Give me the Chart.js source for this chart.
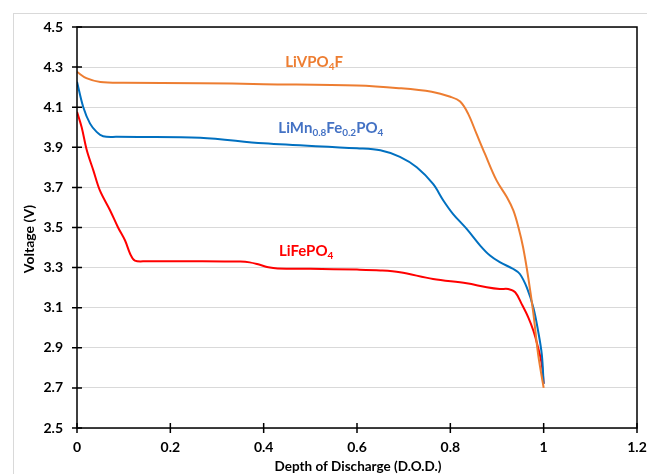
<!DOCTYPE html>
<html>
<head>
<meta charset="utf-8">
<script src="https://cdn.jsdelivr.net/npm/chart.js@4"></script>
<style>
html,body{margin:0;padding:0;background:#fff;}
#wrap{width:647px;height:474px;position:relative;}
</style>
</head>
<body>
<div id="wrap"><canvas id="c" width="647" height="474"></canvas></div>
<script>
// Tick labels
const xTicks = [0, 0.2, 0.4, 0.6, 0.8, 1, 1.2];
const yTicks = [2.5, 2.7, 2.9, 3.1, 3.3, 3.5, 3.7, 3.9, 4.1, 4.3, 4.5];
const xTitle = 'Depth of Discharge (D.O.D.)';
const yTitle = 'Voltage (V)';

// LiVPO4F
const dodLiVPO4F = [0, 0.02, 0.05, 0.1, 0.264, 0.4, 0.6, 0.69, 0.76, 0.8, 0.821, 0.838, 0.856, 0.874, 0.899, 0.921, 0.935, 0.946, 0.956, 0.967, 0.978, 0.988, 1.0];
const vLiVPO4F   = [4.276, 4.245, 4.226, 4.222, 4.22, 4.215, 4.208, 4.195, 4.177, 4.152, 4.128, 4.068, 3.968, 3.868, 3.735, 3.652, 3.585, 3.50, 3.40, 3.25, 3.07, 2.87, 2.70];

// LiMn0.8Fe0.2PO4
const dodLiMnFePO4 = [0, 0.0135, 0.028, 0.042, 0.056, 0.085, 0.264, 0.4, 0.6, 0.65, 0.692, 0.728, 0.763, 0.785, 0.806, 0.835, 0.864, 0.885, 0.906, 0.935, 0.949, 0.964, 0.978, 0.988, 0.996, 1.0];
const vLiMnFePO4   = [4.227, 4.10, 4.018, 3.977, 3.955, 3.952, 3.948, 3.92, 3.895, 3.885, 3.852, 3.80, 3.717, 3.635, 3.567, 3.493, 3.41, 3.36, 3.327, 3.293, 3.268, 3.20, 3.10, 2.985, 2.867, 2.72];

// LiFePO4
const dodLiFePO4 = [0, 0.01, 0.021, 0.035, 0.049, 0.071, 0.088, 0.103, 0.114, 0.124, 0.149, 0.25, 0.35, 0.37, 0.39, 0.41, 0.43, 0.5, 0.6, 0.65, 0.692, 0.763, 0.835, 0.878, 0.906, 0.924, 0.939, 0.953, 0.967, 0.978, 0.988, 0.996, 1.0];
const vLiFePO4   = [4.077, 4.00, 3.885, 3.785, 3.685, 3.585, 3.50, 3.435, 3.368, 3.335, 3.332, 3.332, 3.33, 3.326, 3.315, 3.302, 3.296, 3.294, 3.29, 3.286, 3.277, 3.243, 3.222, 3.202, 3.193, 3.193, 3.177, 3.118, 3.052, 2.985, 2.902, 2.818, 2.72];

// Series labels (anchor in data coordinates)
const seriesLabels = [
  {parts: [['LiVPO', 0], ['4', 1], ['F', 0]], x: 0.508, y: 4.325, color: '#ED7D31'},
  {parts: [['LiMn', 0], ['0.8', 1], ['Fe', 0], ['0.2', 1], ['PO', 0], ['4', 1]], x: 0.544, y: 3.996, color: '#4472C4'},
  {parts: [['LiFePO', 0], ['4', 1]], x: 0.491, y: 3.383, color: '#FF0000'}
];

const toXY = (xs, ys) => xs.map((x, i) => ({x: x, y: ys[i]}));
const FONT = 'Lato, "Open Sans", "Liberation Sans", sans-serif';

const framePlugin = {
  id: 'frame',
  beforeDraw(chart) {
    const ctx = chart.ctx;
    ctx.save();
    ctx.fillStyle = '#fff';
    ctx.fillRect(0, 0, chart.width, chart.height);
    ctx.strokeStyle = '#d9d9d9';
    ctx.lineWidth = 1;
    ctx.strokeRect(13.5, 13.5, 640, 470);
    ctx.restore();
  },
  afterDatasetsDraw(chart) {
    const ctx = chart.ctx;
    const a = chart.chartArea;
    const xs = chart.scales.x, ys = chart.scales.y;
    ctx.save();
    ctx.strokeStyle = '#000';
    ctx.lineWidth = 1.5;
    ctx.beginPath();
    ctx.rect(a.left, a.top, a.right - a.left, a.bottom - a.top);
    ctx.stroke();
    ctx.beginPath();
    xTicks.forEach(v => {
      const px = xs.getPixelForValue(v);
      ctx.moveTo(px, a.bottom - 5);
      ctx.lineTo(px, a.bottom + 5);
    });
    yTicks.forEach(v => {
      const py = ys.getPixelForValue(v);
      ctx.moveTo(a.left - 5, py);
      ctx.lineTo(a.left + 5, py);
    });
    ctx.stroke();
    // axis titles
    ctx.fillStyle = '#000';
    ctx.textAlign = 'center';
    ctx.textBaseline = 'middle';
    ctx.font = 'bold 13.5px ' + FONT;
    ctx.fillText(xTitle, (xs.getPixelForValue(0) + xs.getPixelForValue(1.2)) / 2 + 1, 467);
    ctx.save();
    ctx.translate(29, 239);
    ctx.rotate(-Math.PI / 2);
    ctx.font = 'bold 14px ' + FONT;
    ctx.fillText(yTitle, 0, 0);
    ctx.restore();
    // series labels
    seriesLabels.forEach(l => {
      const big = 'bold 15px ' + FONT, small = 'bold 10px ' + FONT;
      let w = 0;
      l.parts.forEach(p => { ctx.font = p[1] ? small : big; w += ctx.measureText(p[0]).width; });
      let cx = xs.getPixelForValue(l.x) - w / 2;
      const cy = ys.getPixelForValue(l.y);
      ctx.fillStyle = l.color;
      ctx.textBaseline = 'middle';
      ctx.textAlign = 'left';
      l.parts.forEach(p => {
        ctx.font = p[1] ? small : big;
        ctx.fillText(p[0], cx, cy + (p[1] ? 4.5 : 0));
        cx += ctx.measureText(p[0]).width;
      });
    });
    ctx.restore();
  }
};

new Chart(document.getElementById('c'), {
  type: 'line',
  data: {
    datasets: [
      {label: 'LiVPO4F', data: toXY(dodLiVPO4F, vLiVPO4F), borderColor: '#ED7D31'},
      {label: 'LiMn0.8Fe0.2PO4', data: toXY(dodLiMnFePO4, vLiMnFePO4), borderColor: '#0070C0'},
      {label: 'LiFePO4', data: toXY(dodLiFePO4, vLiFePO4), borderColor: '#FF0000'}
    ].map(d => Object.assign(d, {borderWidth: 2, pointRadius: 0, fill: false, tension: 0.35}))
  },
  options: {
    responsive: false,
    animation: false,
    events: [],
    layout: {padding: {left: 0, top: 27, right: 10, bottom: 0}},
    plugins: {legend: {display: false}, tooltip: {enabled: false}},
    scales: {
      x: {
        type: 'linear', min: 0, max: 1.2,
        afterFit: s => { s.height = 46; s.paddingLeft = 0; s.paddingRight = 0; },
        afterBuildTicks: s => { s.ticks = xTicks.map(v => ({value: v})); },
        grid: {display: false, drawTicks: false},
        border: {display: false},
        ticks: {padding: 11, color: '#000', font: {family: FONT, size: 14, weight: 'bold'}, maxRotation: 0,
                callback: v => String(v)},
        title: {display: false}
      },
      y: {
        type: 'linear', min: 2.5, max: 4.5,
        afterFit: s => { s.width = 77; s.paddingTop = 0; s.paddingBottom = 0; },
        afterBuildTicks: s => { s.ticks = yTicks.map(v => ({value: v})); },
        grid: {color: '#d9d9d9', lineWidth: 1, drawTicks: false},
        border: {display: false},
        ticks: {padding: 14, color: '#000', font: {family: FONT, size: 14, weight: 'bold'},
                callback: v => v.toFixed(1)},
        title: {display: false}
      }
    }
  },
  plugins: [framePlugin]
});
</script>
</body>
</html>
